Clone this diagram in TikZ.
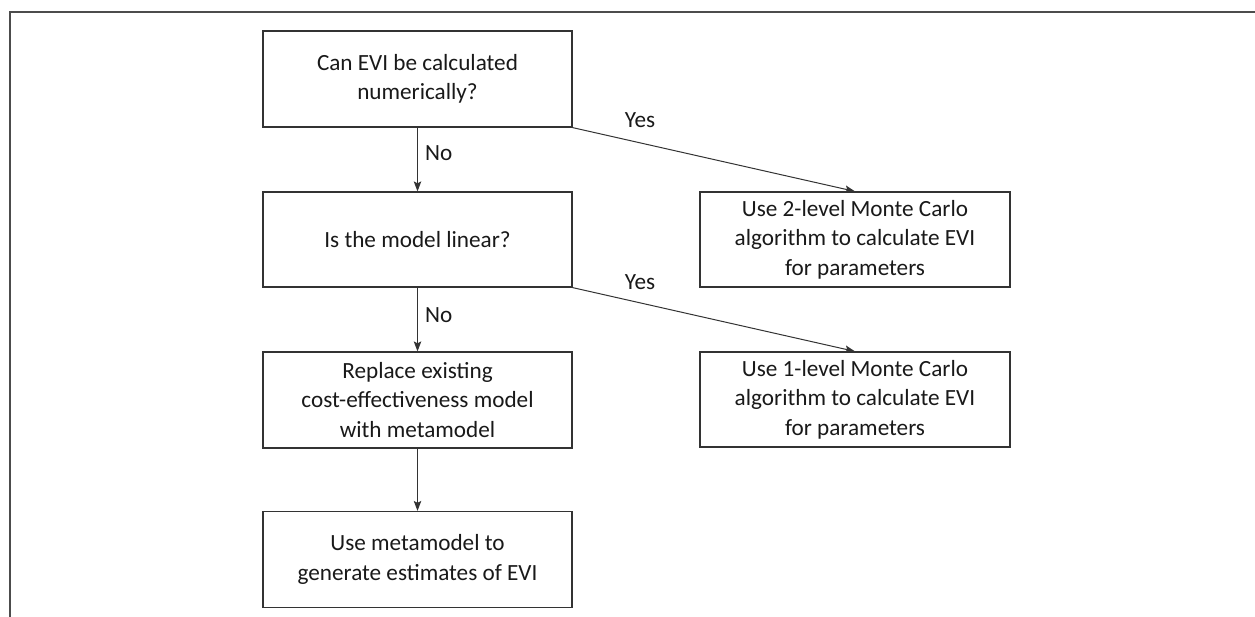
\documentclass[tikz,border=0pt]{standalone}
\usepackage{fontspec}
\setmainfont{Carlito}
\usetikzlibrary{arrows.meta}
\begin{document}
\begin{tikzpicture}[x=1pt,y=-1pt,
  box/.style={draw=black!80,line width=1.2pt,minimum height=96pt,inner sep=0pt,align=center,
    font=\fontsize{23.2}{29.5}\selectfont,text=black!90},
  lbl/.style={font=\fontsize{23.2}{29}\selectfont,text=black!90,inner sep=0pt},
  arr/.style={draw=black!80,line width=1pt,-{Stealth[length=10pt,width=7.5pt,inset=2pt]}},
  frame/.style={draw=black!70,line width=2pt}]
\useasboundingbox (0,0) rectangle (1255,616);
\coordinate (ftl) at (10,12);
\coordinate (ftr) at (1256,12);
\coordinate (fbl) at (10,617);
\draw[frame] (ftr) -- (ftl) -- (fbl);
\node[box,minimum width=309pt] (b1) at (417.5,79) {Can EVI be calculated\\numerically?};
\node[box,minimum width=309pt,minimum height=95pt] (b2) at (417.5,239.5) {Is the model linear?};
\node[box,minimum width=309pt] (b3) at (417.5,400) {Replace existing\\cost-effectiveness model\\with metamodel};
\node[box,minimum width=309pt] (b4) at (417.5,559.5) {Use metamodel to\\generate estimates of EVI};
\node[box,minimum width=310pt,minimum height=95pt] (bA) at (855,239.5) {Use 2-level Monte Carlo\\algorithm to calculate EVI\\for parameters};
\node[box,minimum width=310pt,minimum height=95pt] (bB) at (855,399.5) {Use 1-level Monte Carlo\\algorithm to calculate EVI\\for parameters};
\draw[arr] (b1.south) -- (b2.north);
\draw[arr] (b1.south east) -- (bA.north);
\draw[arr] (b2.south) -- (b3.north);
\draw[arr] (b2.south east) -- (bB.north);
\draw[arr] (b3.south) -- (b4.north);
\node[lbl,anchor=west] (no1) at (425,153) {No};
\node[lbl] (yes1) at (640,120) {Yes};
\node[lbl,anchor=west] (no2) at (425,315) {No};
\node[lbl] (yes2) at (640,282) {Yes};
\end{tikzpicture}
\end{document}
